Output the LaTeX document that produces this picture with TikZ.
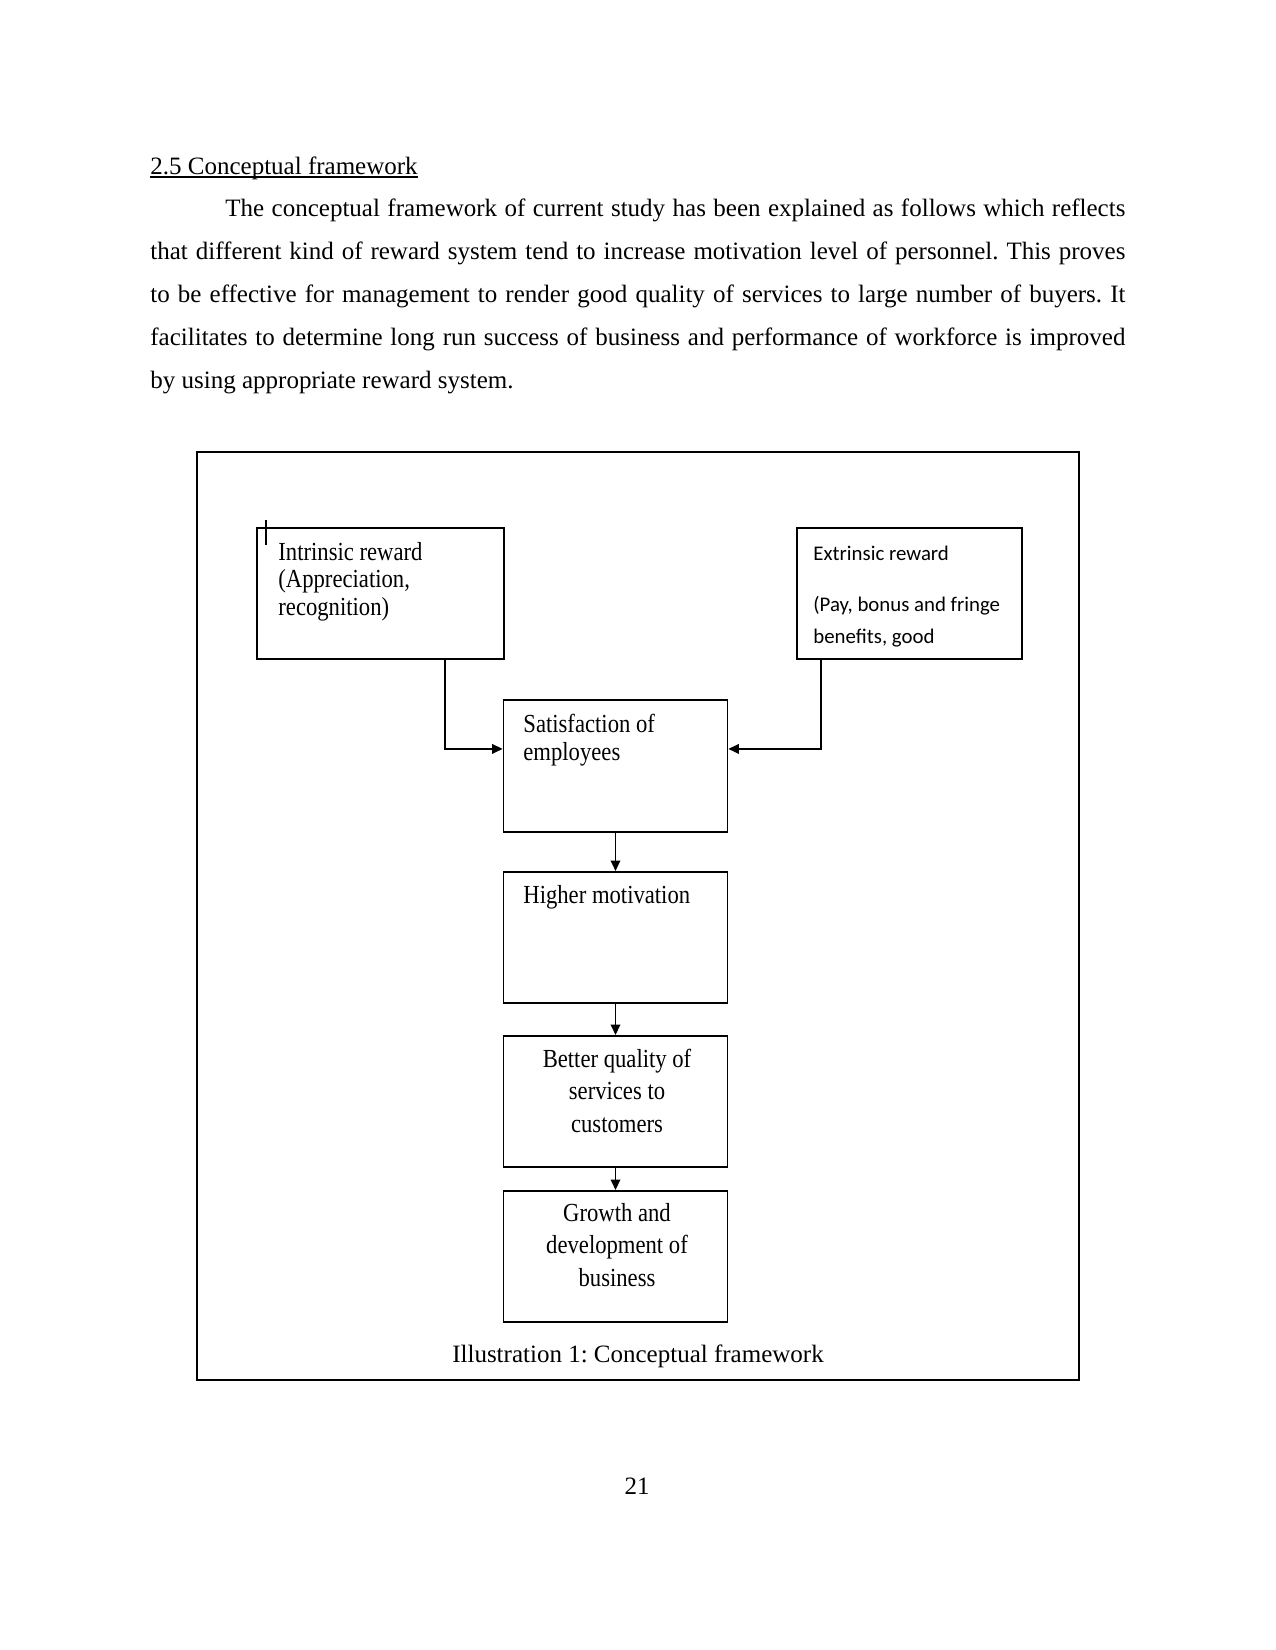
\documentclass[tikz,border=0pt]{standalone}
\usepackage{fontspec}
\setmainfont{Liberation Serif}
\newfontfamily\boxfont[FakeStretch=0.87]{Liberation Serif}
\newfontfamily\calfont{Carlito}
\usetikzlibrary{arrows.meta,positioning}
\frenchspacing

\begin{document}
\begin{tikzpicture}[x=0.48pt, y=-0.48pt, >={Triangle[length=5pt,width=4.6pt]},
  every node/.style={inner sep=0pt},
  box/.style={draw, line width=0.9pt, minimum height=63pt},
  boxtxt/.style={font=\boxfont\fontsize{12.5}{13.2}\selectfont, align=left, anchor=base west},
  midtxt/.style={font=\boxfont\fontsize{12.5}{15.4}\selectfont, align=center, anchor=base},
  link/.style={->, line width=0.75pt}]
\useasboundingbox (0,0) rectangle (1275,1650);

% page text
\node[anchor=base west, font=\fontsize{12}{14}\selectfont] (head) at (150,174.5) {2.5 Conceptual framework};
\draw[line width=0.55pt] ([yshift=-1.2pt]head.base west) -- ([yshift=-1.2pt]head.base east);
\node[anchor=base west, text width=468pt, align=justify, font=\fontsize{12}{20.64}\selectfont] (para) at (150,216.5)
  {\hspace*{36pt}The conceptual framework of current study has been explained as follows which reflects\linebreak
   that different kind of reward system tend to increase motivation level of personnel. This proves\linebreak
   to be effective for management to render good quality of services to large number of buyers. It\linebreak
   facilitates to determine long run success of business and performance of workforce is improved\linebreak
   by using appropriate reward system.};

% figure frame
\draw[line width=0.6pt] (197,452) rectangle (1079,1380);

% boxes
\node[box, minimum width=118.6pt] (intr) at (380.5,593.5) {};
\node[box, minimum width=108pt] (extr) at (909.5,593.5) {};
\node[box, minimum width=107.5pt] (satis) at (615.5,766) {};
\node[box, minimum width=107.5pt] (motiv) at (615.5,937.5) {};
\node[box, minimum width=107.5pt] (qual) at (615.5,1101.5) {};
\node[box, minimum width=107.5pt] (grow) at (615.5,1256.5) {};

% box texts (anchored at the last line)
\node[boxtxt] (intrtxt) at (278,615) {Intrinsic reward\\(Appreciation,\\recognition)};
\node[boxtxt, font=\calfont\fontsize{10}{14.9}\selectfont] (extrtxt) at (813,643) {Extrinsic reward\\[10pt](Pay, bonus and fringe\\benefits, good};
\node[boxtxt, font=\boxfont\fontsize{12.5}{13}\selectfont] (satistxt) at (523,760) {Satisfaction of\\employees};
\node[boxtxt] (motivtxt) at (523,903) {Higher motivation};
\node[midtxt] (qualtxt) at (617,1132) {Better quality of\\services to\\customers};
\node[midtxt] (growtxt) at (617,1286) {Growth and\\development of\\business};

% text cursor mark
\draw[line width=1.4pt] (266,520) -- (266,545);

% connectors
\draw[link] ([xshift=31pt]intr.south) |- ([yshift=8.2pt]satis.west);
\draw[link] ([xshift=-42.5pt]extr.south) |- ([yshift=8.2pt]satis.east);
\draw[link] (satis) -- (motiv);
\draw[link] (motiv) -- (qual);
\draw[link] (qual) -- (grow);

% caption and page number
\node[anchor=base, font=\fontsize{12}{14}\selectfont] (cap) at (638,1362) {Illustration 1: Conceptual framework};
\node[anchor=base, font=\fontsize{12}{14}\selectfont] (pnum) at (637,1494) {21};
\end{tikzpicture}
\end{document}
